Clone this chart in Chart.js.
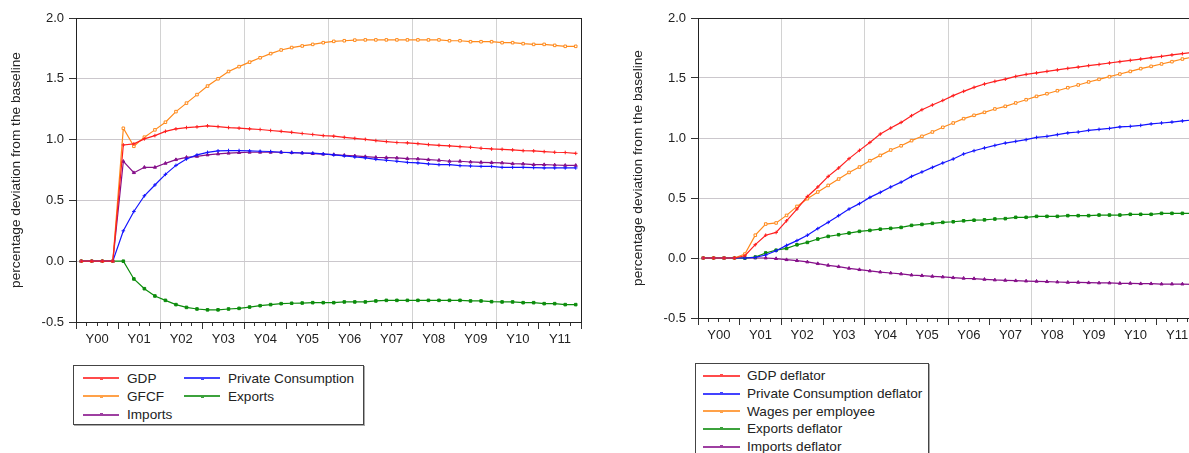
<!DOCTYPE html>
<html>
<head>
<meta charset="utf-8">
<script src="https://cdn.jsdelivr.net/npm/chart.js@4.4.1/dist/chart.umd.min.js"></script>
<style>
html, body { margin: 0; padding: 0; background: #fff; }
body { width: 1189px; height: 453px; overflow: hidden; position: relative; font-family: "Liberation Sans", Arial, sans-serif; }
canvas { position: absolute; top: 0; }
#leftChart { left: 0; }
#rightChart { left: 620px; }
.legend { position: absolute; border: 1px solid #444; box-shadow: 1px 1px 0 #aaa; background: #fff; font-size: 13.6px; color: #222; box-sizing: border-box; }
.legend .item { display: flex; align-items: center; height: 18px; white-space: nowrap; }
.legend .sample { position: relative; width: 36px; height: 2px; margin-right: 8px; flex: none; opacity: 0.8; }
.legend .sample i { position: absolute; left: 17px; top: -0.5px; width: 3px; height: 3px; }
#leftLegend { left: 73px; top: 365px; width: 291px; height: 60px; padding: 3px 0 0 9px; display: grid; grid-template-columns: 101px auto; }
#rightLegend { left: 695px; top: 363px; width: 234px; height: 100px; padding: 3px 0 0 7px; }
#rightLegend .item { height: 17.7px; }
#rightLegend .sample { width: 37px; margin-right: 7px; }
</style>
</head>
<body>
<canvas id="leftChart" width="600" height="360"></canvas>
<canvas id="rightChart" width="600" height="360"></canvas>
<div id="leftLegend" class="legend"></div>
<div id="rightLegend" class="legend"></div>
<script>
var years = ['Y00', 'Y01', 'Y02', 'Y03', 'Y04', 'Y05', 'Y06', 'Y07', 'Y08', 'Y09', 'Y10', 'Y11'];
var quartersPerYear = 4;
var axisTitle = 'percentage deviation from the baseline';

// left panel: volumes (quarterly, Y00Q1 .. Y11Q4)
var gdp = [0, 0, 0, 0, 0.956, 0.965, 1.006, 1.033, 1.068, 1.088, 1.099, 1.105, 1.113, 1.107, 1.099, 1.094,
  1.088, 1.083, 1.075, 1.068, 1.06, 1.05, 1.042, 1.033, 1.028, 1.019, 1.01, 1.002, 0.992, 0.984, 0.976, 0.973,
  0.967, 0.959, 0.953, 0.948, 0.942, 0.937, 0.929, 0.923, 0.92, 0.915, 0.909, 0.907, 0.901, 0.896, 0.894, 0.887];
var gfcf = [0, 0, 0, 0, 1.093, 0.945, 1.02, 1.08, 1.143, 1.23, 1.30, 1.37, 1.44, 1.50, 1.56, 1.60,
  1.637, 1.673, 1.707, 1.737, 1.757, 1.77, 1.783, 1.797, 1.808, 1.813, 1.818, 1.82, 1.82, 1.82, 1.82, 1.82,
  1.82, 1.82, 1.82, 1.813, 1.813, 1.805, 1.805, 1.805, 1.797, 1.797, 1.789, 1.783, 1.783, 1.775, 1.767, 1.767];
var privCons = [0, 0, 0, 0, 0.25, 0.409, 0.538, 0.627, 0.714, 0.788, 0.841, 0.874, 0.895, 0.907, 0.91, 0.91,
  0.907, 0.904, 0.902, 0.896, 0.893, 0.89, 0.888, 0.882, 0.874, 0.866, 0.857, 0.849, 0.838, 0.83, 0.822, 0.813,
  0.808, 0.8, 0.794, 0.794, 0.786, 0.783, 0.78, 0.78, 0.772, 0.772, 0.772, 0.77, 0.767, 0.767, 0.767, 0.767];
var exportsVol = [0, 0, 0, 0, 0, -0.146, -0.226, -0.286, -0.322, -0.357, -0.38, -0.393, -0.40, -0.40, -0.393, -0.388,
  -0.377, -0.366, -0.357, -0.349, -0.346, -0.344, -0.341, -0.341, -0.341, -0.335, -0.335, -0.335, -0.327, -0.322, -0.322, -0.322,
  -0.322, -0.322, -0.322, -0.322, -0.322, -0.327, -0.327, -0.333, -0.335, -0.335, -0.341, -0.341, -0.349, -0.349, -0.357, -0.357];
var importsVol = [0, 0, 0, 0, 0.821, 0.728, 0.772, 0.772, 0.805, 0.835, 0.854, 0.862, 0.874, 0.882, 0.888, 0.893,
  0.896, 0.896, 0.896, 0.896, 0.893, 0.89, 0.885, 0.88, 0.877, 0.871, 0.866, 0.86, 0.854, 0.852, 0.849, 0.844,
  0.841, 0.835, 0.83, 0.822, 0.822, 0.816, 0.813, 0.811, 0.808, 0.802, 0.8, 0.794, 0.794, 0.791, 0.788, 0.788];

// right panel: prices
var gdpDefl = [0, 0, 0, 0, 0.019, 0.111, 0.19, 0.213, 0.31, 0.408, 0.513, 0.592, 0.68, 0.75, 0.828, 0.897,
  0.963, 1.033, 1.083, 1.13, 1.186, 1.236, 1.275, 1.313, 1.353, 1.389, 1.422, 1.45, 1.472, 1.49, 1.513, 1.53,
  1.542, 1.555, 1.567, 1.58, 1.591, 1.603, 1.613, 1.625, 1.636, 1.647, 1.658, 1.669, 1.68, 1.692, 1.703, 1.714];
var privConsDefl = [0, 0, 0, 0, 0, 0.005, 0.025, 0.06, 0.105, 0.145, 0.19, 0.245, 0.297, 0.353, 0.408, 0.453,
  0.505, 0.547, 0.592, 0.632, 0.68, 0.717, 0.755, 0.792, 0.825, 0.867, 0.894, 0.917, 0.938, 0.958, 0.972, 0.986,
  1.005, 1.014, 1.028, 1.042, 1.05, 1.064, 1.072, 1.08, 1.092, 1.097, 1.105, 1.117, 1.125, 1.133, 1.142, 1.15];
var wages = [0, 0, 0, 0, 0.033, 0.19, 0.283, 0.292, 0.355, 0.43, 0.494, 0.55, 0.605, 0.658, 0.713, 0.758,
  0.811, 0.855, 0.9, 0.935, 0.978, 1.014, 1.05, 1.089, 1.125, 1.161, 1.189, 1.214, 1.242, 1.264, 1.292, 1.319,
  1.347, 1.369, 1.394, 1.419, 1.442, 1.467, 1.489, 1.511, 1.533, 1.555, 1.578, 1.597, 1.617, 1.636, 1.658, 1.675];
var exportsDefl = [0, 0, 0, 0, 0, 0.008, 0.042, 0.065, 0.08, 0.11, 0.13, 0.158, 0.18, 0.194, 0.208, 0.222,
  0.23, 0.24, 0.247, 0.255, 0.272, 0.28, 0.289, 0.297, 0.302, 0.31, 0.315, 0.318, 0.325, 0.328, 0.339, 0.339,
  0.347, 0.347, 0.347, 0.353, 0.353, 0.353, 0.358, 0.358, 0.358, 0.364, 0.364, 0.364, 0.372, 0.372, 0.372, 0.372];
var importsDefl = [0, 0, 0, 0, 0, 0, 0, -0.005, -0.014, -0.022, -0.033, -0.047, -0.061, -0.072, -0.086, -0.097,
  -0.108, -0.117, -0.125, -0.133, -0.142, -0.147, -0.153, -0.158, -0.164, -0.169, -0.172, -0.178, -0.183, -0.186, -0.189, -0.192,
  -0.194, -0.197, -0.2, -0.203, -0.203, -0.206, -0.208, -0.208, -0.211, -0.211, -0.214, -0.214, -0.217, -0.217, -0.217, -0.219];

var RED = '#ff1f1f', ORANGE = '#ff8a1c', BLUE = '#1515ff', GREEN = '#0c8c0c', PURPLE = '#86108a';
var labelFont = { family: '"Liberation Sans", Arial, sans-serif', size: 13 };
var titleFont = { family: '"Liberation Sans", Arial, sans-serif', size: 13.7 };
var nQ = years.length * quartersPerYear;

function points(values) {
  return values.map(function(v, i) { return { x: i + 0.5, y: v }; });
}

function serie(label, values, color, style, filled) {
  return {
    label: label,
    data: points(values),
    borderColor: color,
    backgroundColor: color,
    borderWidth: 1.2,
    tension: 0,
    pointStyle: style,
    pointRadius: 1.8,
    pointHoverRadius: 0,
    pointBorderWidth: 1,
    pointBorderColor: color,
    pointBackgroundColor: filled ? color : '#fff'
  };
}

function tickList(step, from) {
  var list = [];
  for (var v = from; v <= nQ; v += step) list.push({ value: v });
  return list;
}

function scales(yWidth, yTitlePad, xHeight, rightBorder) {
  return {
    x: {
      type: 'linear', position: 'bottom', weight: 0, min: 0, max: nQ,
      afterBuildTicks: function(axis) { axis.ticks = tickList(1, 0); },
      ticks: { display: false },
      grid: {
        color: function(c) {
          var v = c.tick.value;
          if (v === nQ) return rightBorder ? '#222' : 'rgba(0,0,0,0)';
          if (v > 0 && v % (2 * quartersPerYear) === 0) return '#d2d2d2';
          return 'rgba(0,0,0,0)';
        },
        lineWidth: 1, tickLength: 4, tickColor: '#333'
      },
      border: { display: true, color: '#222', width: 1 }
    },
    xYears: {
      type: 'linear', axis: 'x', position: 'bottom', weight: 1, min: 0, max: nQ,
      afterBuildTicks: function(axis) { axis.ticks = tickList(quartersPerYear / 2, 0); },
      afterFit: function(axis) { axis.height = xHeight; },
      ticks: {
        autoSkip: false, maxRotation: 0, padding: 3, color: '#222', font: labelFont,
        callback: function(value) {
          return value % quartersPerYear === quartersPerYear / 2 ? years[(value - quartersPerYear / 2) / quartersPerYear] : '';
        }
      },
      grid: {
        drawOnChartArea: false, tickLength: 3,
        tickColor: function(c) { return c.tick.value % quartersPerYear === 0 ? '#333' : 'rgba(0,0,0,0)'; }
      },
      border: { display: false }
    },
    y: {
      type: 'linear', position: 'left', min: -0.5, max: 2.0,
      afterFit: function(axis) { axis.width = yWidth; },
      ticks: {
        stepSize: 0.5, padding: 5, color: '#222', font: labelFont,
        callback: function(value) { return Number(value).toFixed(1); }
      },
      grid: {
        color: function(c) {
          var v = c.tick.value;
          if (Math.abs(v - 2) < 1e-6) return '#222';
          if (Math.abs(v + 0.5) < 1e-6) return 'rgba(0,0,0,0)';
          return '#cbc7cc';
        },
        lineWidth: 1, tickLength: 7, tickColor: '#333'
      },
      border: { display: true, color: '#222', width: 1 },
      title: { display: true, text: axisTitle, color: '#222', font: titleFont, padding: { top: yTitlePad, bottom: 0 } }
    }
  };
}

function makeChart(id, sets, yWidth, yTitlePad, xHeight, rightBorder, padRight) {
  return new Chart(document.getElementById(id).getContext('2d'), {
    type: 'line',
    data: { datasets: sets },
    options: {
      responsive: false,
      animation: false,
      devicePixelRatio: 1,
      layout: { padding: { top: 18, right: padRight, bottom: 0, left: 0 } },
      plugins: { legend: { display: false }, tooltip: { enabled: false } },
      scales: scales(yWidth, yTitlePad, xHeight, rightBorder)
    }
  });
}

function buildLegend(id, sets) {
  var box = document.getElementById(id);
  sets.forEach(function(s) {
    var item = document.createElement('div');
    item.className = 'item';
    var sample = document.createElement('span');
    sample.className = 'sample';
    sample.style.background = s.borderColor;
    var mark = document.createElement('i');
    mark.style.background = s.borderColor;
    sample.appendChild(mark);
    item.appendChild(sample);
    item.appendChild(document.createTextNode(s.label));
    box.appendChild(item);
  });
}

var leftSets = [
  serie('GDP', gdp, RED, 'cross', false),
  serie('Private Consumption', privCons, BLUE, 'cross', false),
  serie('GFCF', gfcf, ORANGE, 'rect', false),
  serie('Exports', exportsVol, GREEN, 'rect', true),
  serie('Imports', importsVol, PURPLE, 'triangle', true)
];
var rightSets = [
  serie('GDP deflator', gdpDefl, RED, 'cross', false),
  serie('Private Consumption deflator', privConsDefl, BLUE, 'cross', false),
  serie('Wages per employee', wages, ORANGE, 'rect', false),
  serie('Exports deflator', exportsDefl, GREEN, 'rect', true),
  serie('Imports deflator', importsDefl, PURPLE, 'triangle', true)
];

makeChart('leftChart', leftSets, 76, 8, 34, true, 19);
makeChart('rightChart', rightSets, 78, 10, 38, false, 22);
buildLegend('leftLegend', leftSets);
buildLegend('rightLegend', rightSets);
</script>
</body>
</html>
